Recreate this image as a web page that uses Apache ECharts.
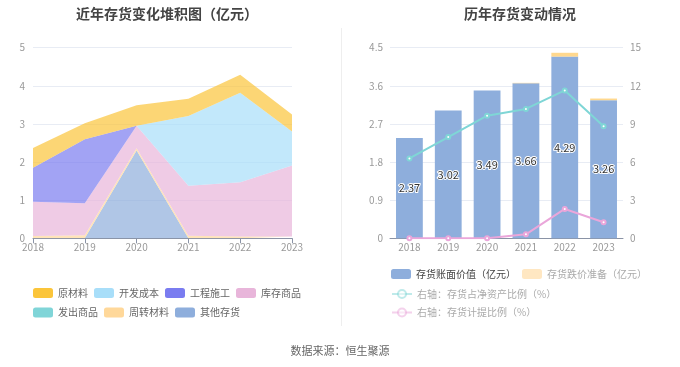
<!DOCTYPE html>
<html><head><meta charset="utf-8">
<script src="https://cdn.jsdelivr.net/npm/echarts@6/dist/echarts.min.js"></script>
<style>html,body{margin:0;padding:0;background:#fff}#c{width:680px;height:367px}</style>
</head><body><div id="c"></div>
<script>
const years = ['2018','2019','2020','2021','2022','2023'];
// left stacked area (亿元)
const yuancailiao = [0.52, 0.42, 0.54, 0.45, 0.47, 0.45];
const kaifachengben = [0, 0, 0, 1.83, 2.35, 0.89];
const gongchengshigong = [0.89, 1.68, 0, 0, 0, 0];
const kucunshangpin = [0.90, 0.84, 0.59, 1.31, 1.42, 1.86];
const fachushangpin = [0, 0, 0, 0, 0, 0];
const zhouzhuancailiao = [0.06, 0.08, 0.06, 0.07, 0.05, 0.05];
const qitacunhuo = [0, 0, 2.30, 0, 0, 0];
const leftTicks = [0, 1, 2, 3, 4, 5];
// right chart
const bookValue = [2.37, 3.02, 3.49, 3.66, 4.29, 3.26];
const provision = [0, 0, 0, 0.01, 0.09, 0.04];
const netAssetRatio = [6.29, 7.97, 9.65, 10.18, 11.64, 8.81];
const provisionRatio = [0, 0, 0, 0.31, 2.31, 1.26];
const rightLeftTicks = [0, 0.9, 1.8, 2.7, 3.6, 4.5];
const rightRightTicks = [0, 3, 6, 9, 12, 15];

const leftNames = ['原材料','开发成本','工程施工','库存商品','发出商品','周转材料','其他存货'];
const leftData = [yuancailiao, kaifachengben, gongchengshigong, kucunshangpin, fachushangpin, zhouzhuancailiao, qitacunhuo];
const leftColors = ['#fbc53a','#a8def9','#7a7cf0','#e8b5da','#80d5d8','#ffd89a','#8eaedc'];

const chart = echarts.init(document.getElementById('c'));
const leftSeries = [];
for (let i = leftNames.length - 1; i >= 0; i--) {
  leftSeries.push({
    name: leftNames[i], type: 'line', stack: 'inv', xAxisIndex: 0, yAxisIndex: 0,
    data: leftData[i], symbol: 'none', lineStyle: {width: 0},
    itemStyle: {color: leftColors[i]},
    areaStyle: {color: leftColors[i], opacity: 0.7}
  });
}
const axisLabel = {color: '#999', fontSize: 10};
const splitLine = {show: true, lineStyle: {color: '#e8ecf4'}};
const legBase = {padding: 0, itemWidth: 20, itemHeight: 10, itemGap: 6, textStyle: {fontSize: 10, color: '#666'}};
chart.setOption({
  animation: false,
  textStyle: {fontFamily: 'Noto Sans CJK SC'},
  title: [
    {text: '近年存货变化堆积图（亿元）', left: 162, top: 2, textAlign: 'center',
     textStyle: {fontSize: 14, fontWeight: 'bold', color: '#444'}},
    {text: '历年存货变动情况', left: 515, top: 2, textAlign: 'center',
     textStyle: {fontSize: 14, fontWeight: 'bold', color: '#444'}}
  ],
  graphic: [
    {type: 'line', shape: {x1: 341.5, y1: 28, x2: 341.5, y2: 326}, style: {stroke: '#eeeeee', lineWidth: 1}},
    {type: 'text', left: 'center', top: 345, style: {text: '数据来源：恒生聚源', fill: '#666', fontSize: 11, fontFamily: 'Noto Sans CJK SC'}}
  ],
  grid: [
    {left: 33, right: 388, top: 47.7, bottom: 128.7},
    {left: 390, right: 57, top: 47.7, bottom: 128.7}
  ],
  legend: [
    Object.assign({}, legBase, {left: 33, top: 288, icon: 'roundRect', data: leftNames.slice(0, 4)}),
    Object.assign({}, legBase, {left: 33, top: 307.5, icon: 'roundRect', data: leftNames.slice(4)}),
    Object.assign({}, legBase, {left: 391, top: 269, data: [
       {name: '存货账面价值（亿元）', icon: 'roundRect', textStyle: {color: '#444'}},
       {name: '存货跌价准备（亿元）', icon: 'roundRect', itemStyle: {color: '#ffe7c2'}, textStyle: {color: '#aaa'}}]}),
    Object.assign({}, legBase, {left: 391, top: 289, data: [
       {name: '右轴：存货占净资产比例（%）', itemStyle: {opacity: 0.5}, lineStyle: {opacity: 0.5}, textStyle: {color: '#aaa'}}]}),
    Object.assign({}, legBase, {left: 391, top: 307.5, data: [
       {name: '右轴：存货计提比例（%）', itemStyle: {opacity: 0.5}, lineStyle: {opacity: 0.5}, textStyle: {color: '#aaa'}}]})
  ],
  xAxis: [
    {type: 'category', gridIndex: 0, data: years, boundaryGap: false,
     axisLine: {lineStyle: {color: '#8a93a6'}}, axisTick: {show: true, lineStyle: {color: '#8a93a6'}},
     axisLabel: Object.assign({margin: 4}, axisLabel)},
    {type: 'category', gridIndex: 1, data: years,
     axisLine: {lineStyle: {color: '#8a93a6'}}, axisTick: {show: false},
     axisLabel: Object.assign({margin: 4}, axisLabel)}
  ],
  yAxis: [
    {type: 'value', gridIndex: 0, min: leftTicks[0], max: leftTicks[leftTicks.length-1], interval: 1,
     axisLabel: axisLabel, splitLine: splitLine, axisLine: {show: false}, axisTick: {show: false}},
    {type: 'value', gridIndex: 1, min: rightLeftTicks[0], max: rightLeftTicks[rightLeftTicks.length-1], interval: 0.9,
     axisLabel: Object.assign({margin: 7, formatter: v => (Math.round(v*10)/10).toString()}, axisLabel),
     splitLine: splitLine, axisLine: {show: false}, axisTick: {show: false}},
    {type: 'value', gridIndex: 1, position: 'right', min: rightRightTicks[0], max: rightRightTicks[rightRightTicks.length-1], interval: 3,
     axisLabel: Object.assign({margin: 7}, axisLabel), splitLine: {show: false}, axisLine: {show: false}, axisTick: {show: false}}
  ],
  series: leftSeries.concat([
    {name: '存货账面价值（亿元）', type: 'bar', stack: 'bar', xAxisIndex: 1, yAxisIndex: 1,
     data: bookValue, barWidth: '69%', itemStyle: {color: '#8eaedc'},
     label: {show: true, position: 'inside', fontSize: 11, color: '#333', textBorderColor: '#fff', textBorderWidth: 2,
       formatter: p => p.value.toFixed(2)}},
    {name: '存货跌价准备（亿元）', type: 'bar', stack: 'bar', xAxisIndex: 1, yAxisIndex: 1,
     data: provision, barWidth: '69%', itemStyle: {color: '#ffd88e'}},
    {name: '右轴：存货占净资产比例（%）', type: 'line', xAxisIndex: 1, yAxisIndex: 2,
     data: netAssetRatio, symbol: 'emptyCircle', symbolSize: 4,
     itemStyle: {color: '#7fd6d6'}, lineStyle: {color: '#7fd6d6', width: 2}},
    {name: '右轴：存货计提比例（%）', type: 'line', xAxisIndex: 1, yAxisIndex: 2,
     data: provisionRatio, symbol: 'emptyCircle', symbolSize: 4,
     itemStyle: {color: '#eaa6da'}, lineStyle: {color: '#eaa6da', width: 2}}
  ])
});
</script></body></html>
